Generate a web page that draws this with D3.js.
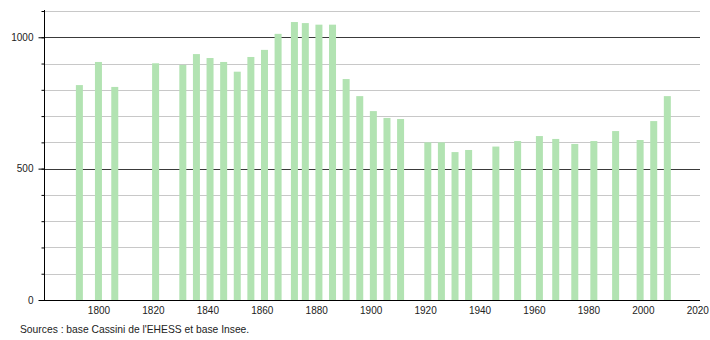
<!DOCTYPE html>
<html>
<head>
<meta charset="utf-8">
<script src="https://cdn.jsdelivr.net/npm/d3@7"></script>
<style>
  body { margin: 0; background: #fff; }
  svg text { font-family: "Liberation Sans", Arial, sans-serif; }
</style>
</head>
<body>
<div class="chart"></div>
<script>
var years = [1793, 1800, 1806, 1821, 1831, 1836, 1841, 1846, 1851, 1856, 1861, 1866,
  1872, 1876, 1881, 1886, 1891, 1896, 1901, 1906, 1911, 1921, 1926, 1931, 1936,
  1946, 1954, 1962, 1968, 1975, 1982, 1990, 1999, 2004, 2009];
var population = [818, 906, 811, 901, 895, 936, 921, 906, 869, 925, 952, 1013,
  1058, 1054, 1048, 1048, 841, 776, 719, 693, 689, 600, 600, 563, 571,
  584, 605, 624, 613, 594, 605, 643, 609, 681, 776];
var yearTicks = [1800, 1820, 1840, 1860, 1880, 1900, 1920, 1940, 1960, 1980, 2000, 2020];
var popLabels = [0, 500, 1000];
var popGrid = [100, 200, 300, 400, 500, 600, 700, 800, 900, 1000, 1100];

var svg = d3.select(".chart").append("svg")
  .attr("width", 710)
  .attr("height", 340);

var x = d3.scaleLinear().domain([1780, 2021]).range([44, 700]);
var y = d3.scaleLinear().domain([0, 1100]).range([300, 11]);

// grid lines, dark ones at 500 and 1000
svg.append("g").selectAll("line")
  .data(popGrid)
  .enter().append("line")
  .attr("x1", 44)
  .attr("x2", 700)
  .attr("y1", function(d) { return Math.round(y(d)) + 0.5; })
  .attr("y2", function(d) { return Math.round(y(d)) + 0.5; })
  .attr("stroke", function(d) { return d % 500 === 0 ? "#3a3a3a" : "#c8c8c8"; })
  .attr("stroke-width", 1);

// bars
svg.append("g").selectAll("rect")
  .data(years)
  .enter().append("rect")
  .attr("x", function(d) { return x(d) - 3.5; })
  .attr("width", 7)
  .attr("y", function(d, i) { return y(population[i]); })
  .attr("height", function(d, i) { return y(0) - y(population[i]); })
  .attr("fill", "#b2e3b2");

// y axis: small ticks every 100, longer ones with labels
var yMinor = d3.axisLeft(y).tickValues(popGrid).tickSize(3).tickFormat("");
svg.append("g")
  .attr("transform", "translate(44.5,0)")
  .call(yMinor)
  .call(function(g) { g.select(".domain").remove(); });

var yAxis = d3.axisLeft(y).tickValues(popLabels).tickSize(6).tickPadding(5).tickFormat(d3.format("d"));
svg.append("g")
  .attr("transform", "translate(44.5,0)")
  .call(yAxis)
  .call(function(g) {
    g.select(".domain").attr("d", "M0,10V300");
    g.selectAll("line").attr("stroke", "#000");
    g.selectAll("text").attr("font-size", 10).attr("fill", "#222");
  });

// x axis
var xAxis = d3.axisBottom(x).tickValues(yearTicks).tickSize(0).tickPadding(6).tickFormat(d3.format("d"));
svg.append("g")
  .attr("transform", "translate(0,300.5)")
  .call(xAxis)
  .call(function(g) {
    g.select(".domain").attr("d", "M39,0H700").attr("stroke", "#000");
    g.selectAll("text").attr("font-size", 10).attr("fill", "#222");
  });

svg.append("text")
  .attr("x", 20)
  .attr("y", 333)
  .attr("font-size", 10.3)
  .attr("fill", "#222")
  .text("Sources : base Cassini de l'EHESS et base Insee.");
</script>
</body>
</html>
